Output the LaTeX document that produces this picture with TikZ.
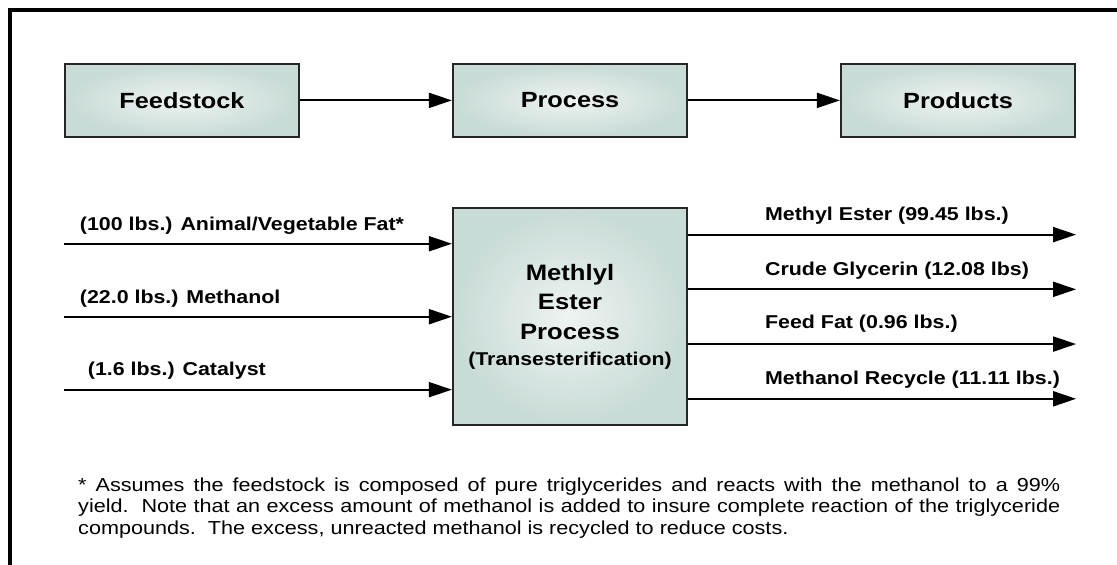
\documentclass[tikz,border=0pt]{standalone}
\usepackage{fontspec}
\setmainfont{Liberation Sans}[FakeStretch=1.15]
\usetikzlibrary{arrows.meta,positioning,calc}
\definecolor{boxfill}{RGB}{200,219,214}
\tikzstyle{stage}=[
	rectangle,
	draw=black!85,
	line width=2.2pt,
	inner color=white!68!boxfill,
	outer color=boxfill,
	minimum width=234pt,
	minimum height=72.7pt,
	font=\bfseries\fontsize{22}{29}\selectfont,
	node distance=69.4pt and 151.8pt
]
\tikzstyle{flow}=[
	-{Triangle[length=23pt,width=15pt]},
	line width=2pt
]
\tikzstyle{amount}=[
	anchor=base west,
	inner sep=0pt,
	font=\bfseries\fontsize{18.6}{22}\selectfont
]

\begin{document}
\begin{tikzpicture}[x=1pt,y=1pt]
\useasboundingbox (0,0) rectangle (1117,-565);
\draw [line width=4pt] (10,-565) -- (10,-10) -- (1117,-10);

\node [stage] (Feedstock) at (182,-100.4) {Feedstock};
\node [stage] (Process)[right=of Feedstock] {Process};
\node [stage] (Products)[right=of Process] {Products};
\draw [flow] (Feedstock) -- (Process);
\draw [flow] (Process) -- (Products);

\node [stage, minimum height=216.7pt, align=center, font=\bfseries\fontsize{22.3}{29.5}\selectfont] (EsterProcess)[below=of Process]
	{Methlyl\\Ester\\Process\\[-3.5pt]{\fontsize{18.5}{20}\selectfont (Transesterification)}};

% feeds into the process
\coordinate (FatEnd) at ($(EsterProcess.north west)!1/6!(EsterProcess.south west)$);
\coordinate (FatStart) at (Feedstock.west |- FatEnd);
\draw [flow] (FatStart) -- (FatEnd)
	node [amount, pos=0, xshift=15pt, yshift=12.8pt] {(100 lbs.) Animal/Vegetable Fat*};
\coordinate (MethanolEnd) at ($(EsterProcess.north west)!1/2!(EsterProcess.south west)$);
\coordinate (MethanolStart) at (Feedstock.west |- MethanolEnd);
\draw [flow] (MethanolStart) -- (MethanolEnd)
	node [amount, pos=0, xshift=15pt, yshift=13.3pt] {(22.0 lbs.) Methanol};
\coordinate (CatalystEnd) at ($(EsterProcess.north west)!5/6!(EsterProcess.south west)$);
\coordinate (CatalystStart) at (Feedstock.west |- CatalystEnd);
\draw [flow] (CatalystStart) -- (CatalystEnd)
	node [amount, pos=0, xshift=23pt, yshift=14pt] {(1.6 lbs.) Catalyst};

% products out of the process
\coordinate (EsterStart) at ($(EsterProcess.north east)!1/8!(EsterProcess.south east)$);
\coordinate (EsterEnd) at (Products.east |- EsterStart);
\draw [flow] (EsterStart) -- (EsterEnd)
	node [amount, pos=0, xshift=76pt, yshift=14.3pt] {Methyl Ester (99.45 lbs.)};
\coordinate (GlycerinStart) at ($(EsterProcess.north east)!3/8!(EsterProcess.south east)$);
\coordinate (GlycerinEnd) at (Products.east |- GlycerinStart);
\draw [flow] (GlycerinStart) -- (GlycerinEnd)
	node [amount, pos=0, xshift=76pt, yshift=14.3pt] {Crude Glycerin (12.08 lbs)};
\coordinate (FeedFatStart) at ($(EsterProcess.north east)!5/8!(EsterProcess.south east)$);
\coordinate (FeedFatEnd) at (Products.east |- FeedFatStart);
\draw [flow] (FeedFatStart) -- (FeedFatEnd)
	node [amount, pos=0, xshift=76pt, yshift=15.5pt] {Feed Fat (0.96 lbs.)};
\coordinate (RecycleStart) at ($(EsterProcess.north east)!7/8!(EsterProcess.south east)$);
\coordinate (RecycleEnd) at (Products.east |- RecycleStart);
\draw [flow] (RecycleStart) -- (RecycleEnd)
	node [amount, pos=0, xshift=76pt, yshift=14pt] {Methanol Recycle (11.11 lbs.)};

\node [anchor=base west, inner sep=0pt, text width=982pt, align=justify, font=\fontsize{18.8}{21.3}\selectfont] (Footnote) at (78,-491.5)
	{* Assumes the feedstock is composed of pure triglycerides and reacts with the methanol to a 99\%\linebreak
	yield.\ \ Note that an excess amount of methanol is added to insure complete reaction of the triglyceride\linebreak
	compounds.\ \ The excess, unreacted methanol is recycled to reduce costs.};
\end{tikzpicture}
\end{document}
